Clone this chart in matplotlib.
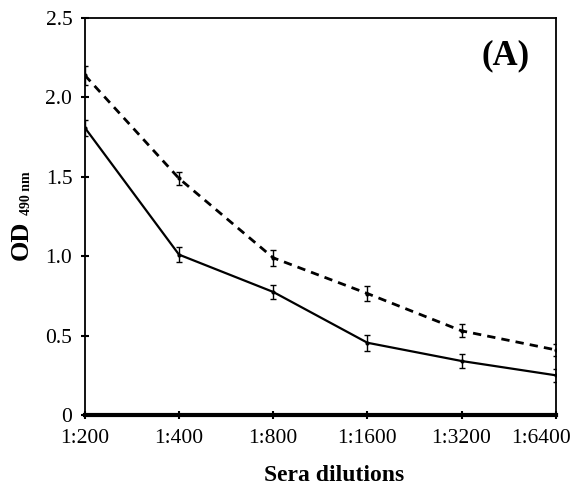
import matplotlib
matplotlib.use("Agg")
import matplotlib.pyplot as plt
import matplotlib.transforms as mtransforms
import numpy as np

categories = ["1:200", "1:400", "1:800", "1:1600", "1:3200", "1:6400"]
dashed_vals = [2.14, 1.49, 0.99, 0.765, 0.53, 0.41]
dashed_err = [0.06, 0.04, 0.05, 0.045, 0.04, 0.04]
solid_vals = [1.81, 1.01, 0.775, 0.455, 0.34, 0.25]
solid_err = [0.05, 0.045, 0.045, 0.05, 0.045, 0.04]
yticks = [0, 0.5, 1.0, 1.5, 2.0, 2.5]
ytick_labels = ["0", "0.5", "1.0", "1.5", "2.0", "2.5"]

plt.rcParams['font.family'] = ['Liberation Serif', 'DejaVu Serif']

fig = plt.figure(figsize=(5.73, 4.88), dpi=100)
ax = fig.add_axes([0.148, 0.1496, 0.822, 0.8134])

x = np.arange(len(categories))
ax.errorbar(x, dashed_vals, yerr=dashed_err, color='black', linestyle=(0, (3, 2.2)),
            linewidth=2.0, capsize=2.5, elinewidth=1, capthick=1, marker='o', markersize=2)
ax.errorbar(x, solid_vals, yerr=solid_err, color='black', linestyle='-',
            linewidth=1.6, capsize=2.5, elinewidth=1, capthick=1, marker='o', markersize=2)

ax.set_xlim(0, len(categories) - 1)
ax.set_ylim(0, 2.5)
ax.set_xticks(x)
ax.set_xticklabels(categories, fontsize=15.5)
ax.set_yticks(yticks)
ax.set_yticklabels(ytick_labels, fontsize=15.5)
ax.tick_params(axis='both', direction='inout', length=6, width=1.5, pad=6)
ax.tick_params(axis='x', pad=7)

# shift the last x tick label to the left so it fits inside the figure
last = ax.get_xticklabels()[-1]
last.set_transform(last.get_transform() + mtransforms.ScaledTranslation(-15 / 100, 0, fig.dpi_scale_trans))

for s in ['left', 'top', 'right']:
    ax.spines[s].set_linewidth(1.3)
ax.spines['bottom'].set_linewidth(3)

ax.set_xlabel("Sera dilutions", fontsize=17, fontweight='bold', labelpad=13)
ax.xaxis.set_label_coords(0.529, -0.125)
fig.text(21 / 573, 1 - 240 / 488, "OD", rotation=90, fontsize=19, fontweight='bold',
         ha='center', va='center')
fig.text(27 / 573, 1 - 193.5 / 488, "490 nm", rotation=90, fontsize=10, fontweight='bold',
         ha='center', va='center')
ax.text(0.894, 0.905, "(A)", transform=ax.transAxes, fontsize=25, fontweight='bold',
        ha='center', va='center')

fig.savefig("out.png", dpi=100)
